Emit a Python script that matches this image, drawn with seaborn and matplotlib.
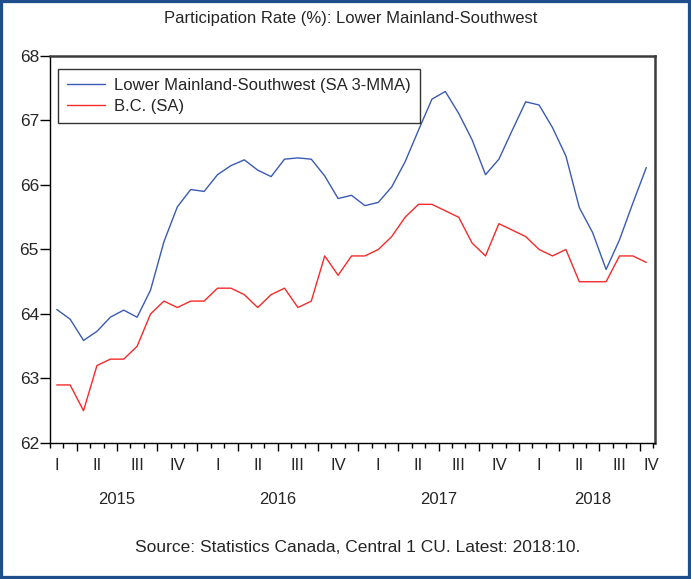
import numpy as np
import pandas as pd
import seaborn as sns
import matplotlib.pyplot as plt
from matplotlib.patches import Rectangle

# monthly data, 2015:02 .. 2018:10
months = pd.period_range("2015-02", "2018-10", freq="M")

lms_rate = [64.07, 63.92, 63.59, 63.73, 63.95, 64.06, 63.95, 64.37, 65.12, 65.66,
            65.93, 65.90, 66.16, 66.30, 66.39, 66.23, 66.13, 66.40, 66.42, 66.40,
            66.14, 65.79, 65.84, 65.68, 65.73, 65.97, 66.36, 66.85, 67.33, 67.45,
            67.11, 66.70, 66.16, 66.40, 66.85, 67.29, 67.24, 66.89, 66.45, 65.65,
            65.26, 64.69, 65.15, 65.72, 66.27]
bc_rate = [62.9, 62.9, 62.5, 63.2, 63.3, 63.3, 63.5, 64.0, 64.2, 64.1,
           64.2, 64.2, 64.4, 64.4, 64.3, 64.1, 64.3, 64.4, 64.1, 64.2,
           64.9, 64.6, 64.9, 64.9, 65.0, 65.2, 65.5, 65.7, 65.7, 65.6,
           65.5, 65.1, 64.9, 65.4, 65.3, 65.2, 65.0, 64.9, 65.0, 64.5,
           64.5, 64.5, 64.9, 64.9, 64.8]

series_names = ["Lower Mainland-Southwest (SA 3-MMA)", "B.C. (SA)"]
series_colors = ["#3a5bb3", "#f52a2a"]
quarter_labels = ["I", "II", "III", "IV"] * 4
year_labels = ["2015", "2016", "2017", "2018"]

# position = months since Jan 2015
pos = (months.year - 2015) * 12 + months.month - 1
df = pd.DataFrame({
    "pos": np.concatenate([pos, pos]),
    "value": lms_rate + bc_rate,
    "series": [series_names[0]] * len(pos) + [series_names[1]] * len(pos),
})

sns.set_style("white")
plt.rcParams['font.family'] = ['Liberation Sans', 'DejaVu Sans']

fig = plt.figure(figsize=(6.91, 5.79), dpi=100)
ax = fig.add_axes([0.0724, 0.2349, 0.8755, 0.6684])

sns.lineplot(data=df, x="pos", y="value", hue="series", palette=series_colors,
             hue_order=series_names, linewidth=1.0, ax=ax)

ax.set_xlim(0.5, 45.65)
ax.set_ylim(62, 68)
ax.set_yticks(range(62, 69))
ax.set_xlabel("")
ax.set_ylabel("")

# quarter boundaries = major ticks, month boundaries = minor ticks
ax.set_xticks(np.arange(2.5, 45.6, 3))
ax.set_xticks(np.arange(0.5, 45.6, 1), minor=True)
ax.set_xticklabels([])
ax.tick_params(axis="x", which="major", direction="out", length=6, width=1, color="black", bottom=True)
ax.tick_params(axis="x", which="minor", direction="out", length=3.5, width=1, color="black", bottom=True)
ax.tick_params(axis="y", which="major", direction="out", length=7, width=1, color="black",
               left=True, labelsize=12.5, pad=1)

for side in ["left", "bottom"]:
    ax.spines[side].set_color("black")
    ax.spines[side].set_linewidth(1.0)
for side in ["top", "right"]:
    ax.spines[side].set_color("#3c3c3c")
    ax.spines[side].set_linewidth(1.8)

xt = ax.get_xaxis_transform()
q_pos = [1 + 3 * k for k in range(15)] + [45.35]
for p, lab in zip(q_pos, quarter_labels):
    ax.text(p, -0.0594, lab, transform=xt, ha="center", va="center", fontsize=12)
for p, lab in zip([5.5, 17.5, 29.5, 41.0], year_labels):
    ax.text(p, -0.147, lab, transform=xt, ha="center", va="center", fontsize=12)

leg = ax.legend(loc="upper left", bbox_to_anchor=(0.013, 0.967), fontsize=12,
                frameon=True, fancybox=False, edgecolor="black", handlelength=2.3,
                borderpad=0.55, labelspacing=0.35, handletextpad=0.5, borderaxespad=0)
leg.get_frame().set_linewidth(1.0)

fig.text(0.508, 1 - 19 / 579, "Participation Rate (%): Lower Mainland-Southwest",
         ha="center", va="center", fontsize=12)
fig.text(0.517, 1 - 547 / 579, "Source: Statistics Canada, Central 1 CU. Latest: 2018:10.",
         ha="center", va="center", fontsize=12.5)

fig.patches.append(Rectangle((0, 0), 1, 1, transform=fig.transFigure, fill=False,
                             edgecolor="#1f4e8c", linewidth=4.5))

fig.savefig("out.png", dpi=100)
